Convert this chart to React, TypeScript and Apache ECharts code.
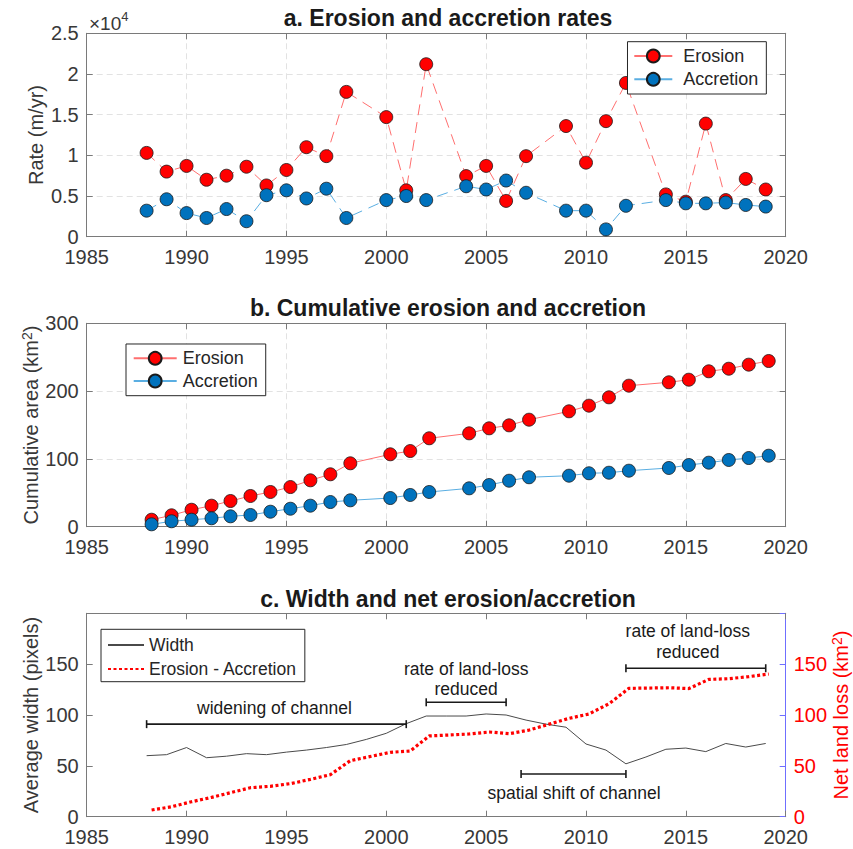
import React, { useEffect, useRef } from 'react';
import * as echarts from 'echarts';

// ---------- data ----------
const rateYears = [1988, 1989, 1990, 1991, 1992, 1993, 1994, 1995, 1996, 1997, 1998, 2000, 2001, 2002, 2004, 2005, 2006, 2007, 2009, 2010, 2011, 2012, 2014, 2015, 2016, 2017, 2018, 2019];
const erosionRate = [10300, 8000, 8700, 7000, 7500, 8600, 6300, 8200, 11000, 9900, 17800, 14700, 5700, 21200, 7450, 8700, 4400, 9900, 13600, 9100, 14200, 18900, 5200, 4300, 13900, 4500, 7100, 5800];
const accretionRate = [3200, 4600, 2900, 2300, 3400, 1900, 5100, 5700, 4700, 5900, 2300, 4500, 5000, 4500, 6200, 5800, 6900, 5400, 3200, 3200, 900, 3800, 4500, 4100, 4100, 4200, 3900, 3700];

const cumDates = [1988.25, 1989.25, 1990.25, 1991.25, 1992.2, 1993.2, 1994.2, 1995.2, 1996.2, 1997.2, 1998.2, 2000.2, 2001.2, 2002.15, 2004.15, 2005.15, 2006.15, 2007.15, 2009.15, 2010.15, 2011.15, 2012.15, 2014.15, 2015.15, 2016.15, 2017.15, 2018.15, 2019.15];
const cumErosion = [10.3, 16.8, 25, 31, 37.9, 45.3, 51.2, 58.5, 68.4, 77.3, 93.5, 106.8, 111.6, 130.4, 137.7, 145.1, 149.5, 157.8, 170.2, 178.5, 190.8, 208, 213, 216.8, 229.2, 233, 239, 244.4];
const cumAccretion = [3.5, 8, 10.3, 12.4, 15.3, 17.3, 22.1, 26.5, 31, 36.4, 38.9, 42.3, 46.8, 51.2, 56.6, 61.5, 67.8, 72.9, 75.2, 78.8, 79.6, 82.6, 86.6, 91, 94.4, 98.4, 101.3, 104.7];
const netLoss = [6.6, 9.8, 14.7, 19, 23.6, 28.5, 29.9, 32.5, 36.7, 41.3, 55.1, 63.3, 64.6, 79.4, 81.3, 83.3, 81.6, 85.2, 96.7, 101, 111, 126.2, 126.8, 126, 135, 135.7, 137.7, 140.3];

const widthYears = [1988, 1989, 1990, 1991, 1992, 1993, 1994, 1995, 1996, 1997, 1998, 1999, 2000, 2001, 2002, 2003, 2004, 2005, 2006, 2007, 2008, 2009, 2010, 2011, 2012, 2013, 2014, 2015, 2016, 2017, 2018, 2019];
const avgWidth = [60, 61, 68, 58, 59.5, 62, 61, 63.5, 65.5, 68, 71, 76, 82, 91.5, 99, 99, 99, 101, 100, 95, 91, 88, 71.5, 65.5, 52, 58.7, 66.3, 67.5, 64, 72, 68.5, 72];

// annotations (data coordinates of panel c, left axis)
const annotStart = [1988, 2002, 2012, 2006.75];
const annotEnd = [2001, 2006, 2019, 2012];
const annotLevel = [91, 112.5, 146, 42];
const annotTextX = [1994.4, 2004, 2015.1, 2009.4];
const annotTextY = [106.6, 135.4, 172.5, 23.6];
const annotLabels = ['widening of channel', 'rate of land-loss\nreduced', 'rate of land-loss\nreduced', 'spatial shift of channel'];

const titles = ['a. Erosion and accretion rates', 'b. Cumulative erosion and accretion', 'c. Width and net erosion/accretion'];

// ---------- styles ----------
const FONT = '"Liberation Sans", Arial, Helvetica, sans-serif';
const AX = '#7a7a7a';
const TXT = '#383838';
const GRIDC = '#e2e2e2';
const RED = '#ff0000';
const REDLINE = '#ff6f6f';
const BLUE = '#0072bd';
const BLUELINE = '#5aaee2';

const GRID_LEFT = 86.7;
const GRID_W = 699;
const GRID_H = 203.4;
const GRID_TOPS = [33.3, 323.3, 613.3];

function xBottom(gridIndex: number, split: boolean) {
  return {
    type: 'value', gridIndex, min: 1985, max: 2020, interval: 5,
    axisLine: { show: true, onZero: false, lineStyle: { color: AX, width: 1 } },
    axisTick: { show: true, inside: true, length: 6, lineStyle: { color: AX } },
    axisLabel: { fontSize: 20, fontFamily: FONT, color: TXT, margin: 11, lineHeight: 18, formatter: (v: number) => String(v) },
    splitLine: { show: split, lineStyle: { type: [6, 4], color: GRIDC } },
  };
}
function xTop(gridIndex: number) {
  return {
    type: 'value', gridIndex, position: 'top', min: 1985, max: 2020, interval: 5,
    axisLine: { show: true, onZero: false, lineStyle: { color: AX, width: 1 } },
    axisTick: { show: true, inside: true, length: 6, lineStyle: { color: AX } },
    axisLabel: { show: false },
    splitLine: { show: false },
  };
}
function yRightPlain(gridIndex: number, min: number, max: number, interval: number) {
  return {
    type: 'value', gridIndex, position: 'right', min, max, interval,
    axisLine: { show: true, onZero: false, lineStyle: { color: AX, width: 1 } },
    axisTick: { show: true, inside: true, length: 6, lineStyle: { color: AX } },
    axisLabel: { show: false },
    splitLine: { show: false },
  };
}

const supRich = {
  s: { fontSize: 14, fontFamily: FONT, color: TXT, verticalAlign: 'top', lineHeight: 14 },
};

export default function App() {
  const ref = useRef<HTMLDivElement>(null);
  useEffect(() => {
    if (!ref.current) return;
    const chart = echarts.init(ref.current, undefined, { renderer: 'svg' });

    const legendText = { fontFamily: FONT, fontSize: 18, color: '#262626', lineHeight: 20 };

    const option: any = {
      animation: false,
      backgroundColor: '#ffffff',
      grid: GRID_TOPS.map((t) => ({ left: GRID_LEFT, top: t, width: GRID_W, height: GRID_H, containLabel: false, outerBoundsMode: 'none' })),
      xAxis: [xBottom(0, true), xTop(0), xBottom(1, true), xTop(1), xBottom(2, false), xTop(2)],
      yAxis: [
        {
          type: 'value', gridIndex: 0, min: 0, max: 25000, interval: 5000,
          name: 'Rate (m/yr)', nameLocation: 'middle', nameGap: 40, nameMoveOverlap: false,
          nameTextStyle: { fontSize: 20, fontFamily: FONT, color: TXT, lineHeight: 22 },
          axisLine: { show: true, onZero: false, lineStyle: { color: AX, width: 1 } },
          axisTick: { show: true, inside: true, length: 6, lineStyle: { color: AX } },
          axisLabel: { fontSize: 20, fontFamily: FONT, color: TXT, margin: 8, lineHeight: 18, formatter: (v: number) => String(v / 10000) },
          splitLine: { show: true, lineStyle: { type: [6, 4], color: GRIDC } },
        },
        yRightPlain(0, 0, 25000, 5000),
        {
          type: 'value', gridIndex: 1, min: 0, max: 300, interval: 100,
          name: 'Cumulative area (km{s|2})', nameLocation: 'middle', nameGap: 45, nameMoveOverlap: false,
          nameTextStyle: { fontSize: 20, fontFamily: FONT, color: TXT, lineHeight: 22, rich: supRich },
          axisLine: { show: true, onZero: false, lineStyle: { color: AX, width: 1 } },
          axisTick: { show: true, inside: true, length: 6, lineStyle: { color: AX } },
          axisLabel: { fontSize: 20, fontFamily: FONT, color: TXT, margin: 8, lineHeight: 18 },
          splitLine: { show: true, lineStyle: { type: [6, 4], color: GRIDC } },
        },
        yRightPlain(1, 0, 300, 100),
        {
          type: 'value', gridIndex: 2, min: 0, max: 200, interval: 50,
          name: 'Average width (pixels)', nameLocation: 'middle', nameGap: 45, nameMoveOverlap: false,
          nameTextStyle: { fontSize: 20, fontFamily: FONT, color: TXT, lineHeight: 22 },
          axisLine: { show: true, onZero: false, lineStyle: { color: AX, width: 1 } },
          axisTick: { show: true, inside: true, length: 6, lineStyle: { color: AX } },
          axisLabel: { fontSize: 20, fontFamily: FONT, color: TXT, margin: 8, lineHeight: 18, formatter: (v: number) => (v >= 200 ? '' : String(v)) },
          splitLine: { show: false },
        },
        {
          type: 'value', gridIndex: 2, position: 'right', min: 0, max: 200, interval: 50,
          name: 'Net land loss (km{s|2})', nameLocation: 'middle', nameGap: 44, nameMoveOverlap: false,
          nameTextStyle: { fontSize: 20, fontFamily: FONT, color: RED, lineHeight: 22, rich: { s: { ...supRich.s, color: RED } } },
          axisLine: { show: true, onZero: false, lineStyle: { color: '#6f6fff', width: 1 } },
          axisTick: { show: true, inside: true, length: 6, lineStyle: { color: '#6f6fff' } },
          axisLabel: { fontSize: 20, fontFamily: FONT, color: RED, margin: 8, lineHeight: 18, formatter: (v: number) => (v >= 200 ? '' : String(v)) },
          splitLine: { show: false },
        },
      ],
      legend: [
        {
          orient: 'vertical', left: 627.5, top: 41.7, padding: [4.3, 8, 4.7, 5.8],
          itemWidth: 38, itemHeight: 16, itemGap: 3.3,
          borderColor: '#262626', borderWidth: 1, backgroundColor: '#ffffff', borderRadius: 0,
          textStyle: { ...legendText, padding: [0, 0, 0, 6] },
          data: [{ name: 'Erosion', lineStyle: { type: 'solid' } }, { name: 'Accretion', lineStyle: { type: 'solid' } }],
          z: 10,
        },
        {
          orient: 'vertical', left: 126, top: 344, padding: [4.3, 8, 4.7, 6.7],
          itemWidth: 43, itemHeight: 16, itemGap: 2.7,
          borderColor: '#262626', borderWidth: 1, backgroundColor: '#ffffff', borderRadius: 0,
          textStyle: { ...legendText, padding: [0, 0, 0, 1] },
          formatter: (n: string) => n.replace(/^b-/, ''),
          data: ['b-Erosion', 'b-Accretion'],
          z: 10,
        },
        {
          orient: 'vertical', left: 101, top: 629.3, padding: [5.7, 8, 2.7, 6],
          itemWidth: 36, itemHeight: 16, itemGap: 4,
          borderColor: '#262626', borderWidth: 1, backgroundColor: '#ffffff', borderRadius: 0,
          textStyle: { ...legendText, fontSize: 17.5, padding: [0, 0, 0, 0] },
          data: [{ name: 'Width', itemStyle: { opacity: 0 } }, { name: 'Erosion - Accretion', itemStyle: { opacity: 0 } }],
          z: 10,
        },
      ],
      graphic: [
        ...titles.map((t, i) => ({
          type: 'text', x: 448, y: [18.4, 307.5, 599.2][i],
          style: { text: t, fontSize: 23, fontWeight: 'bold', fontFamily: FONT, fill: '#1a1a1a', align: 'center', verticalAlign: 'middle' },
        })),
        {
          type: 'text', x: 89, y: 10,
          style: {
            text: '{m|×10}{s|4}', fontFamily: FONT, fill: TXT,
            rich: {
              m: { fontSize: 19, fontFamily: FONT, color: TXT, lineHeight: 26 },
              s: { fontSize: 13, fontFamily: FONT, color: TXT, verticalAlign: 'top', lineHeight: 13 },
            },
          },
        },
      ],
      series: [
        {
          name: 'Erosion', type: 'line', xAxisIndex: 0, yAxisIndex: 0,
          data: rateYears.map((x, i) => [x, erosionRate[i]]),
          symbol: 'circle', symbolSize: 13,
          lineStyle: { color: REDLINE, width: 1, type: [11, 7] },
          itemStyle: { color: RED, borderColor: '#1a1a1a', borderWidth: 0.8 },
        },
        {
          name: 'Accretion', type: 'line', xAxisIndex: 0, yAxisIndex: 0,
          data: rateYears.map((x, i) => [x, accretionRate[i]]),
          symbol: 'circle', symbolSize: 13,
          lineStyle: { color: BLUELINE, width: 1, type: [11, 7] },
          itemStyle: { color: BLUE, borderColor: '#1a1a1a', borderWidth: 0.8 },
        },
        {
          name: 'b-Erosion', type: 'line', xAxisIndex: 2, yAxisIndex: 2,
          data: cumDates.map((x, i) => [x, cumErosion[i]]),
          symbol: 'circle', symbolSize: 13,
          lineStyle: { color: REDLINE, width: 1 },
          itemStyle: { color: RED, borderColor: '#1a1a1a', borderWidth: 0.8 },
        },
        {
          name: 'b-Accretion', type: 'line', xAxisIndex: 2, yAxisIndex: 2,
          data: cumDates.map((x, i) => [x, cumAccretion[i]]),
          symbol: 'circle', symbolSize: 13,
          lineStyle: { color: BLUELINE, width: 1 },
          itemStyle: { color: BLUE, borderColor: '#1a1a1a', borderWidth: 0.8 },
        },
        {
          name: 'Width', type: 'line', xAxisIndex: 4, yAxisIndex: 4,
          data: widthYears.map((x, i) => [x, avgWidth[i]]),
          symbol: 'none',
          lineStyle: { color: '#4a4a4a', width: 1 },
          itemStyle: { color: '#4a4a4a' },
        },
        {
          name: 'Erosion - Accretion', type: 'line', xAxisIndex: 4, yAxisIndex: 5,
          data: cumDates.map((x, i) => [x, netLoss[i]]),
          symbol: 'none',
          lineStyle: { color: RED, width: 3.2, type: [3, 2.5], cap: 'butt' },
          itemStyle: { color: RED },
        },
        {
          type: 'custom', xAxisIndex: 4, yAxisIndex: 4, clip: false, silent: true,
          data: annotStart.map((s, i) => [s, annotEnd[i], annotLevel[i], annotTextX[i], annotTextY[i]]),
          encode: { x: [0, 1, 3], y: [2, 4] },
          renderItem: (params: any, api: any) => {
            const i = params.dataIndex;
            const p0 = api.coord([api.value(0), api.value(2)]);
            const p1 = api.coord([api.value(1), api.value(2)]);
            const pt = api.coord([api.value(3), api.value(4)]);
            const st = { stroke: '#1a1a1a', lineWidth: 1.6 };
            return {
              type: 'group',
              children: [
                { type: 'line', shape: { x1: p0[0], y1: p0[1], x2: p1[0], y2: p1[1] }, style: st },
                { type: 'line', shape: { x1: p0[0], y1: p0[1] - 4, x2: p0[0], y2: p0[1] + 4 }, style: st },
                { type: 'line', shape: { x1: p1[0], y1: p1[1] - 4, x2: p1[0], y2: p1[1] + 4 }, style: st },
                {
                  type: 'text', x: pt[0], y: pt[1],
                  style: { text: annotLabels[i], align: 'center', verticalAlign: 'middle', fontSize: 17.5, fontFamily: FONT, fill: '#1a1a1a', lineHeight: 20.5 },
                },
              ],
            };
          },
          z: 5,
        },
      ],
    };

    chart.setOption(option);
    return () => chart.dispose();
  }, []);

  return <div ref={ref} style={{ position: 'absolute', left: 0, top: 0, width: 853, height: 849, background: '#fff' }} />;
}
